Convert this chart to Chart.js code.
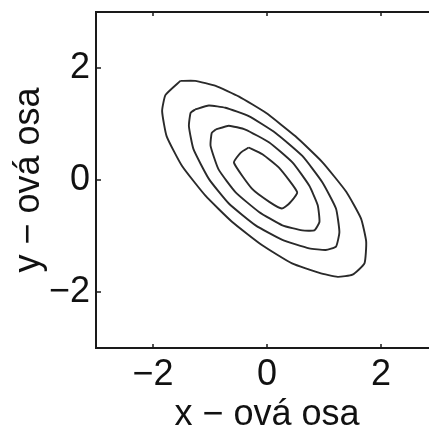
<!DOCTYPE html>
<html>
<head>
<meta charset="utf-8">
<script src="https://cdn.jsdelivr.net/npm/chart.js@4/dist/chart.umd.min.js"></script>
<style>
  html, body { margin: 0; padding: 0; background: #fff; overflow: hidden; }
  #wrap { width: 445px; height: 430px; }
</style>
</head>
<body>
<div id="wrap"><canvas id="myChart"></canvas></div>
<script>
// contour levels, outer to inner (x, y pairs)
const contourOuter = [
  [-1.52, 1.77], [-1.26, 1.77], [-0.90, 1.68], [-0.49, 1.49], [-0.02, 1.20],
  [0.50, 0.78], [0.97, 0.32], [1.39, -0.21], [1.65, -0.69], [1.74, -1.10],
  [1.71, -1.49], [1.50, -1.69], [1.24, -1.73], [0.92, -1.66], [0.44, -1.49],
  [-0.09, -1.16], [-0.62, -0.74], [-1.08, -0.28], [-1.49, 0.25], [-1.76, 0.78],
  [-1.84, 1.23], [-1.78, 1.52]
];
const contourSecond = [
  [-1.26, 1.26], [-1.02, 1.33], [-0.73, 1.29], [-0.32, 1.14], [0.15, 0.84],
  [0.62, 0.43], [0.97, -0.04], [1.21, -0.51], [1.27, -0.93], [1.21, -1.19],
  [1.03, -1.25], [0.74, -1.22], [0.27, -1.07], [-0.20, -0.81], [-0.67, -0.42],
  [-1.02, 0.02], [-1.29, 0.55], [-1.37, 0.96], [-1.34, 1.20]
];
const contourThird = [
  [-0.90, 0.90], [-0.67, 0.97], [-0.38, 0.90], [0.04, 0.67], [0.45, 0.31],
  [0.74, -0.10], [0.89, -0.45], [0.92, -0.75], [0.83, -0.90], [0.62, -0.90],
  [0.27, -0.81], [-0.14, -0.57], [-0.55, -0.22], [-0.85, 0.19], [-0.99, 0.61],
  [-0.97, 0.84]
];
const contourInner = [
  [-0.32, 0.58], [-0.08, 0.46], [0.21, 0.22], [0.53, -0.22], [0.39, -0.42],
  [0.26, -0.51], [0.04, -0.39], [-0.26, -0.16], [-0.58, 0.31], [-0.46, 0.49]
];

const xTicks = [-2, 0, 2];
const yTicks = [-2, 0, 2];
const xTitle = 'x − ová osa';
const yTitle = 'y − ová osa';

const toPoints = pts => {
  const out = pts.map(p => ({ x: p[0], y: p[1] }));
  out.push({ x: pts[0][0], y: pts[0][1] });
  return out;
};

const datasets = [contourOuter, contourSecond, contourThird, contourInner].map(c => ({
  data: toPoints(c),
  showLine: true,
  borderColor: '#2a2a2a',
  borderWidth: 1.9,
  pointRadius: 0,
  tension: 0.15,
  fill: false
}));

const tickLabel = v => (v < 0 ? '\u2212' + Math.abs(v) : String(v));

// box around the plot and small inward ticks
const frame = {
  id: 'frame',
  afterDraw(chart) {
    const { ctx, chartArea: a, scales } = chart;
    ctx.save();
    ctx.strokeStyle = '#1a1a1a';
    ctx.lineWidth = 2;
    ctx.strokeRect(a.left, a.top, a.right - a.left, a.bottom - a.top);
    ctx.lineWidth = 1.5;
    ctx.beginPath();
    xTicks.forEach(v => {
      const px = scales.x.getPixelForValue(v);
      ctx.moveTo(px, a.bottom); ctx.lineTo(px, a.bottom - 4);
      ctx.moveTo(px, a.top); ctx.lineTo(px, a.top + 4);
    });
    yTicks.forEach(v => {
      const py = scales.y.getPixelForValue(v);
      ctx.moveTo(a.left, py); ctx.lineTo(a.left + 5, py);
      ctx.moveTo(a.right, py); ctx.lineTo(a.right - 5, py);
    });
    ctx.stroke();
    ctx.restore();
  }
};

const font = { family: '"Liberation Sans", Arial, sans-serif', size: 36 };

new Chart(document.getElementById('myChart').getContext('2d'), {
  type: 'scatter',
  data: { datasets },
  options: {
    responsive: true,
    maintainAspectRatio: false,
    animation: false,
    layout: { padding: { top: 12, right: 7, left: 0, bottom: 0 } },
    plugins: { legend: { display: false }, tooltip: { enabled: false } },
    scales: {
      x: {
        type: 'linear',
        min: -3,
        max: 3,
        afterBuildTicks: s => { s.ticks = xTicks.map(v => ({ value: v })); },
        afterFit: s => { s.height = 82; s.paddingLeft = 0; s.paddingRight = 0; },
        grid: { display: false },
        border: { display: false },
        ticks: { color: '#111', font, padding: -3, maxRotation: 0, callback: tickLabel },
        title: { display: true, text: xTitle, color: '#111', font, padding: { top: 0, bottom: -7 } }
      },
      y: {
        type: 'linear',
        min: -3,
        max: 3,
        afterBuildTicks: s => { s.ticks = yTicks.map(v => ({ value: v })); },
        afterFit: s => { s.width = 96; s.paddingTop = 0; s.paddingBottom = 0; },
        grid: { display: false },
        border: { display: false },
        ticks: { color: '#111', font, padding: -2, callback: tickLabel },
        title: { display: true, text: yTitle, color: '#111', font, padding: { top: 7, bottom: 0 } }
      }
    }
  },
  plugins: [frame]
});
</script>
</body>
</html>
